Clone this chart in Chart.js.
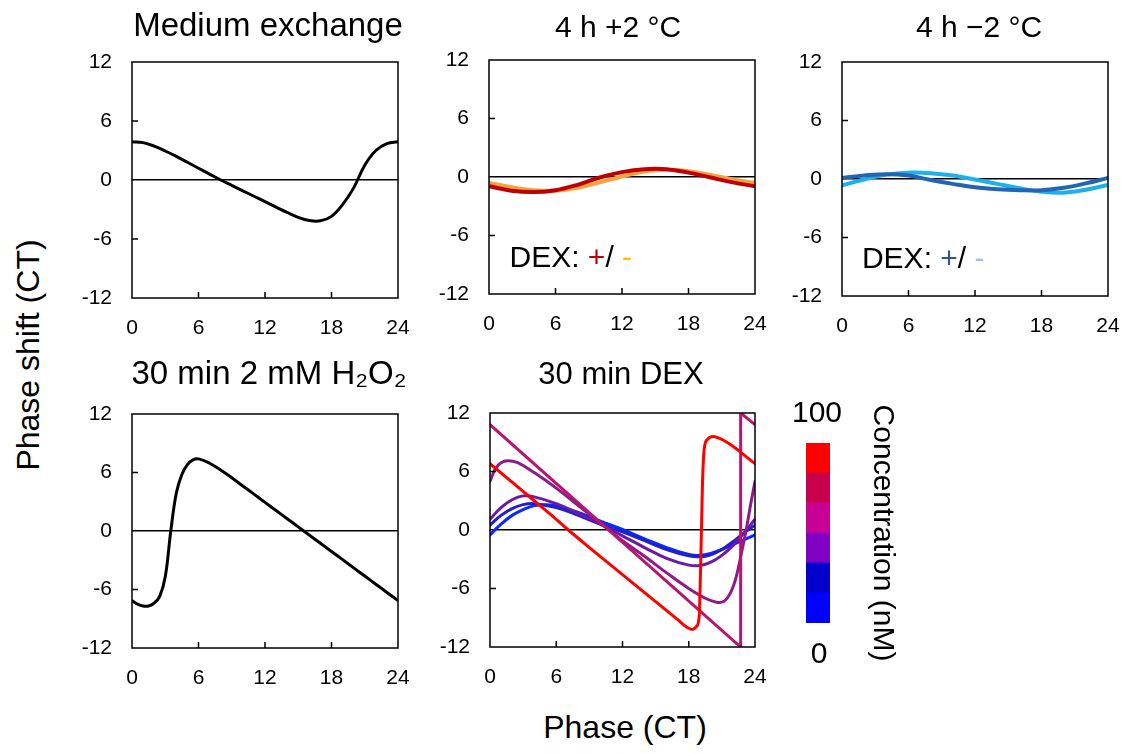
<!DOCTYPE html>
<html>
<head>
<meta charset="utf-8">
<script src="https://cdn.jsdelivr.net/npm/chart.js@4.4.1/dist/chart.umd.min.js"></script>
<style>
  html, body { margin: 0; padding: 0; background: #fff; }
  body { width: 1126px; height: 753px; position: relative; overflow: hidden; font-family: 'Liberation Sans', Arial, sans-serif; }
  canvas { position: absolute; }
  .axt { position: absolute; font-size: 32px; color: #000; white-space: nowrap; line-height: 1.15; transform: translate(-50%, -50%); }
</style>
</head>
<body>
<div class="axt" style="left:28px;top:355px;transform:translate(-50%,-50%) rotate(-90deg);">Phase shift (CT)</div>
<div class="axt" style="left:625px;top:727px;">Phase (CT)</div>
<script>
// ---------------- DATA ----------------
const xTickValues = [0, 6, 12, 18, 24];
const yTickValues = [-12, -6, 0, 6, 12];

// Medium exchange
const phaseMedium = [0,1,2,3,4,5,6,7,8,9,10,11,12,13,14,15,16,17,18,19,20,21,22,23,24];
const shiftMedium = [3.9,3.8,3.45,2.95,2.4,1.8,1.2,0.6,0.0,-0.55,-1.1,-1.65,-2.2,-2.75,-3.3,-3.8,-4.12,-4.15,-3.7,-2.5,-0.8,1.5,3.0,3.7,3.9];

// 4 h +2 °C (DEX + / -)
const phaseTemp = [0,2,4,6,8,10,12,14,16,18,20,22,24];
const shiftWarmDexPlus  = [-0.95,-1.4,-1.55,-1.35,-0.8,-0.05,0.5,0.8,0.8,0.45,-0.05,-0.55,-0.95];
const shiftWarmDexMinus = [-0.6,-1.05,-1.35,-1.4,-1.1,-0.55,0.05,0.55,0.75,0.6,0.2,-0.25,-0.6];

// 4 h -2 °C (DEX + / -)
const shiftColdDexPlus  = [0.1,0.35,0.5,0.35,-0.1,-0.5,-0.85,-1.05,-1.15,-1.15,-0.9,-0.45,0.1];
const shiftColdDexMinus = [-0.65,-0.05,0.45,0.65,0.6,0.35,-0.05,-0.5,-0.95,-1.3,-1.4,-1.1,-0.6];

// 30 min 2 mM H2O2
const phaseH2O2 = [0,0.5,1,1.5,2,2.5,3,3.5,4,4.5,5,5.5,6,7,8,9,10,11,12,13,14,15,16,17,18,19,20,21,22,23,24];
const shiftH2O2 = [-7.15,-7.5,-7.7,-7.7,-7.4,-6.7,-4.7,0,3.9,5.8,6.8,7.3,7.4,6.95,6.25,5.46,4.62,3.78,2.94,2.1,1.26,0.42,-0.42,-1.26,-2.1,-2.94,-3.78,-4.62,-5.46,-6.3,-7.14];

// 30 min DEX, six concentrations from lowest (0) to highest (100 nM)
const dexPhase1 = [0,1,2,3,4,5,6,8,10,12,14,16,18,19,20,21,22,23,24];
const dexShift1 = [-0.5,0.6,1.5,2.1,2.5,2.6,2.5,1.8,0.9,0.05,-0.9,-1.8,-2.5,-2.6,-2.4,-2.0,-1.5,-1.0,-0.5];
const dexPhase2 = [0,1,2,3,4,6,8,10,12,14,16,18,19,20,21,22,23,24];
const dexShift2 = [0.5,1.5,2.2,2.6,2.7,2.3,1.5,0.6,-0.2,-1.1,-2.0,-2.65,-2.75,-2.55,-2.0,-1.2,-0.3,0.5];
const dexPhase3 = [0,1,2,3,4,6,8,10,12,14,16,18,19,20,21,22,23,24];
const dexShift3 = [1.1,2.3,3.1,3.5,3.4,2.7,1.7,0.6,-0.6,-1.8,-2.9,-3.6,-3.65,-3.3,-2.6,-1.6,-0.3,1.1];
const dexPhase4 = [0,0.5,1,1.6,2.5,4,6,8,10,12,14,16,18,19.5,20.5,21.2,21.8,22.3,22.8,23.2,23.6,24];
const dexShift4 = [5.0,6.3,6.9,7.1,6.9,5.9,4.3,2.5,0.7,-1.1,-2.7,-4.4,-6.0,-7.0,-7.4,-7.3,-6.4,-4.8,-2.2,0.0,2.6,5.0];
const dexPhase5 = [0,22.7,22.7,24];
const dexShift5 = [10.8,-12,12,10.8];
const dexPhase6 = [0,2,4,6,7.1,9,11,13,15,17,17.8,18.3,18.7,18.95,19.05,19.15,19.25,19.4,19.7,20.2,20.8,22,23,24];
const dexShift6 = [6.8,4.9,3.0,1.1,0,-1.8,-3.65,-5.5,-7.35,-9.2,-9.95,-10.2,-9.9,-8.8,-5,0,5,8.3,9.3,9.6,9.4,8.6,7.7,6.8];

// Colour bar segments (concentration steps, bottom to top)
const concentrationSteps = [1,1,1,1,1,1];
const concentrationLabels = ['100', '0'];

// ---------------- STYLES / LAYOUT ----------------
const FONT = "'Liberation Sans', Arial, sans-serif";
Chart.defaults.font.family = FONT;
Chart.defaults.color = '#000';

const dexLineColors = ['#0a28ff', '#2020cc', '#6c18a8', '#8e1a8c', '#b8166c', '#ff0000'];
const barColors = ['#0000ff', '#0000cc', '#8000c4', '#c80096', '#c8004c', '#ff0000'];

function pts(xs, ys) { return xs.map((x, i) => ({x, y: ys[i]})); }

const framePlugin = {
  id: 'frame',
  afterDatasetsDraw(chart) {
    const {ctx, chartArea: a, scales} = chart;
    ctx.save();
    ctx.strokeStyle = '#000';
    ctx.lineWidth = 1.5;
    ctx.strokeRect(a.left, a.top, a.right - a.left, a.bottom - a.top);
    ctx.beginPath();
    [6, -6].forEach(v => { const p = scales.y.getPixelForValue(v); ctx.moveTo(a.left, p); ctx.lineTo(a.left + 6, p); });
    [6, 12, 18].forEach(v => { const p = scales.x.getPixelForValue(v); ctx.moveTo(p, a.bottom); ctx.lineTo(p, a.bottom - 6); });
    ctx.stroke();
    ctx.restore();
  }
};

const notePlugin = {
  id: 'note',
  afterDraw(chart, args, opts) {
    if (!opts || !opts.parts) return;
    const {ctx, scales} = chart;
    let x = scales.x.getPixelForValue(opts.x);
    const y = scales.y.getPixelForValue(opts.y);
    ctx.save();
    ctx.font = `${opts.size}px ${FONT}`;
    ctx.textBaseline = 'middle';
    ctx.textAlign = 'left';
    opts.parts.forEach(p => { ctx.fillStyle = p.color; ctx.fillText(p.text, x, y); x += ctx.measureText(p.text).width; });
    ctx.restore();
  }
};

const TICK_SIZE = 21;

function panel(box, title, datasets, note, smooth) {
  const {L, T, R, B, tx, ty, ts} = box;
  const YW = 70, XH = 60;
  const titleLH = Math.round(ts * 1.2);
  const cLeft = L - YW;
  const cW = 2 * (tx - cLeft);
  const YR = cW - (R - cLeft);
  const cTop = Math.round(ty + 2 - titleLH / 2);
  const cH = B + XH - cTop;
  const padB = T - cTop - titleLH;
  const cv = document.createElement('canvas');
  cv.width = cW; cv.height = cH;
  cv.style.left = cLeft + 'px'; cv.style.top = cTop + 'px';
  cv.style.width = cW + 'px'; cv.style.height = cH + 'px';
  document.body.appendChild(cv);
  new Chart(cv, {
    type: 'line',
    data: {datasets},
    options: {
      responsive: false, animation: false, events: [],
      layout: {padding: 0},
      elements: {point: {radius: 0}, line: smooth ? {tension: 0.4, cubicInterpolationMode: 'default', borderCapStyle: 'round', borderJoinStyle: 'round'} : {cubicInterpolationMode: 'monotone', borderCapStyle: 'round', borderJoinStyle: 'round'}},
      plugins: {
        legend: {display: false}, tooltip: {enabled: false},
        title: {display: true, text: title, color: '#000', font: {size: ts, weight: 'normal', lineHeight: titleLH / ts}, padding: {top: 0, bottom: padB}},
        note: note || {}
      },
      scales: {
        x: {
          type: 'linear', min: 0, max: 24,
          afterFit(s) { s.height = XH; s.paddingLeft = 0; s.paddingRight = 0; },
          afterBuildTicks(s) { s.ticks = xTickValues.map(v => ({value: v})); },
          ticks: {font: {size: TICK_SIZE}, color: '#000', padding: 10, maxRotation: 0, autoSkip: false, callback: v => String(v)},
          grid: {display: false}, border: {display: false}
        },
        y: {
          type: 'linear', min: -12, max: 12, position: 'left',
          afterFit(s) { s.width = YW; s.paddingTop = 0; s.paddingBottom = 0; },
          afterBuildTicks(s) { s.ticks = yTickValues.map(v => ({value: v})); },
          ticks: {font: {size: TICK_SIZE}, color: '#000', padding: 20, autoSkip: false, callback: v => String(v)},
          grid: {display: true, drawTicks: false, lineWidth: 1.5, color: c => (c.tick && c.tick.value === 0 ? '#000' : 'rgba(0,0,0,0)')},
          border: {display: false}
        },
        yRight: {
          type: 'linear', min: -12, max: 12, position: 'right',
          afterFit(s) { s.width = YR; s.paddingTop = 0; s.paddingBottom = 0; },
          ticks: {display: false}, grid: {display: false}, border: {display: false}
        }
      }
    },
    plugins: [framePlugin, notePlugin]
  });
}

// Panel 1
panel({L: 132, T: 62, R: 398, B: 298, tx: 268, ty: 25, ts: 33}, 'Medium exchange', [
  {data: pts(phaseMedium, shiftMedium), borderColor: '#000', borderWidth: 3}
], null, true);

// Panel 2
panel({L: 489, T: 60, R: 755, B: 294, tx: 618, ty: 27, ts: 30}, '4 h +2 °C', [
  {data: pts(phaseTemp, shiftWarmDexPlus), borderColor: '#c00000', borderWidth: 4, order: 0},
  {data: pts(phaseTemp, shiftWarmDexMinus), borderColor: '#f4a23e', borderWidth: 4, order: 1}
], {x: 1.85, y: -8.4, size: 30, parts: [
  {text: 'DEX: ', color: '#000'}, {text: '+', color: '#c00000'}, {text: '/ ', color: '#000'}, {text: '-', color: '#ffc000'}
]}, true);

// Panel 3
panel({L: 842, T: 62, R: 1108, B: 296, tx: 979, ty: 27, ts: 30}, '4 h \u22122 °C', [
  {data: pts(phaseTemp, shiftColdDexPlus), borderColor: '#2265b0', borderWidth: 4, order: 0},
  {data: pts(phaseTemp, shiftColdDexMinus), borderColor: '#1cb0ec', borderWidth: 4, order: 1}
], {x: 1.8, y: -8.3, size: 30, parts: [
  {text: 'DEX: ', color: '#000'}, {text: '+', color: '#2f5597'}, {text: '/ ', color: '#000'}, {text: '-', color: '#9dc3e6'}
]}, true);

// Panel 4
panel({L: 132, T: 414, R: 398, B: 648, tx: 269, ty: 373, ts: 33}, '30 min 2 mM H\u2082O\u2082', [
  {data: pts(phaseH2O2, shiftH2O2), borderColor: '#000', borderWidth: 3}
], null, true);

// Panel 5
const dexSeries = [[dexPhase1, dexShift1], [dexPhase2, dexShift2], [dexPhase3, dexShift3], [dexPhase4, dexShift4], [dexPhase5, dexShift5], [dexPhase6, dexShift6]];
panel({L: 490, T: 413, R: 755, B: 647, tx: 621, ty: 373, ts: 31}, '30 min DEX',
  dexSeries.map((s, i) => ({
    data: pts(s[0], s[1]), borderColor: dexLineColors[i], borderWidth: 3, order: 5 - i,
    tension: i === 4 ? 0 : 0.4, cubicInterpolationMode: i === 5 ? 'monotone' : 'default'
  })), null, false
);

// Colour bar
(function () {
  const cLeft = 760, cTop = 380, cW = 200, cH = 310;
  const cv = document.createElement('canvas');
  cv.width = cW; cv.height = cH;
  cv.style.left = cLeft + 'px'; cv.style.top = cTop + 'px';
  cv.style.width = cW + 'px'; cv.style.height = cH + 'px';
  document.body.appendChild(cv);
  const labelPlugin = {
    id: 'cbLabels',
    afterDraw(chart) {
      const {ctx, chartArea: a} = chart;
      const cx = (a.left + a.right) / 2;
      ctx.save();
      ctx.font = `30px ${FONT}`;
      ctx.fillStyle = '#000';
      ctx.textAlign = 'center';
      ctx.textBaseline = 'middle';
      ctx.fillText(concentrationLabels[0], cx - 1, a.top - 29);
      ctx.fillText(concentrationLabels[1], cx + 1, a.bottom + 32);
      ctx.restore();
    }
  };
  new Chart(cv, {
    type: 'bar',
    data: {
      labels: ['c'],
      datasets: concentrationSteps.map((v, i) => ({data: [v], backgroundColor: barColors[i], borderWidth: 0, barPercentage: 1, categoryPercentage: 1}))
    },
    options: {
      responsive: false, animation: false, events: [],
      layout: {padding: {left: 46, right: 60, top: 63, bottom: 67}},
      plugins: {legend: {display: false}, tooltip: {enabled: false}},
      scales: {
        x: {display: false, stacked: true},
        y: {
          position: 'right', stacked: true, min: 0, max: 6,
          afterFit(s) { s.width = 70; s.paddingTop = 0; s.paddingBottom = 0; },
          ticks: {display: false}, grid: {display: false}, border: {display: false},
          title: {display: true, text: 'Concentration (nM)', color: '#000', font: {size: 30, lineHeight: 1.2}, padding: {top: 0, bottom: 0}}
        }
      }
    },
    plugins: [labelPlugin]
  });
})();
</script>
</body>
</html>
